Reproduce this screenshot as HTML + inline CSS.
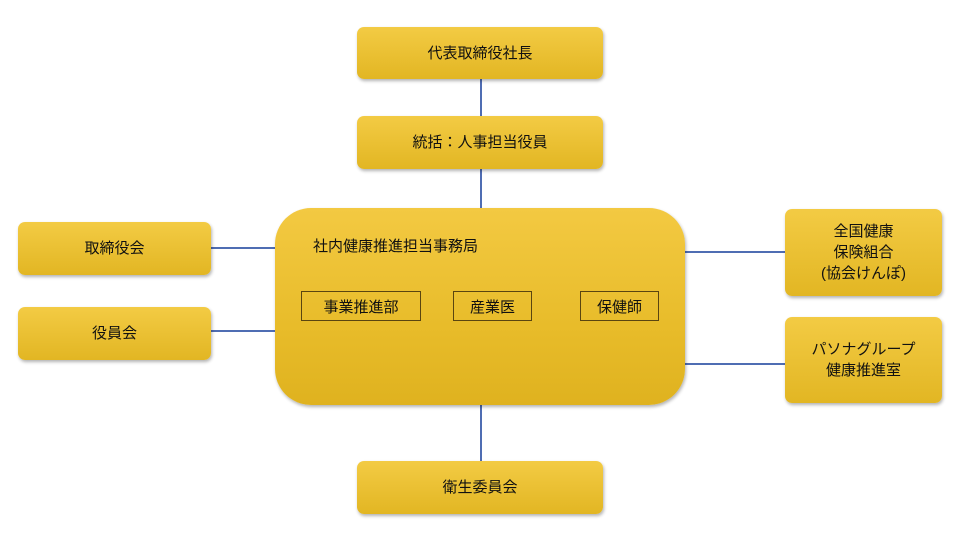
<!DOCTYPE html>
<html><head><meta charset="utf-8"><style>
body{margin:0;width:960px;height:540px;background:#fff;position:relative;overflow:hidden;font-family:"Liberation Sans","Noto Sans CJK JP",sans-serif;color:#111}
.b{position:absolute;background:linear-gradient(#f3cb44,#e2b623);border-radius:7px;box-shadow:1px 2px 3px rgba(0,0,0,.3);display:flex;align-items:center;justify-content:center;text-align:center;font-size:15px;line-height:21px}
.l{position:absolute;background:#4f6db3}
.i{position:absolute;border:1px solid #5a4510;display:flex;align-items:center;justify-content:center;font-size:15px;height:28px;top:291px}
</style></head><body>
<div class="l" style="left:480px;top:79px;width:2px;height:37px"></div>
<div class="l" style="left:480px;top:169px;width:2px;height:40px"></div>
<div class="l" style="left:480px;top:404px;width:2px;height:57px"></div>
<div class="l" style="left:211px;top:247px;width:65px;height:2px"></div>
<div class="l" style="left:211px;top:330px;width:65px;height:2px"></div>
<div class="l" style="left:684px;top:251px;width:101px;height:2px"></div>
<div class="l" style="left:684px;top:363px;width:101px;height:2px"></div>
<div class="b" style="left:357px;top:27px;width:246px;height:52px">代表取締役社長</div>
<div class="b" style="left:357px;top:116px;width:246px;height:53px">統括：人事担当役員</div>
<div class="b" style="left:18px;top:222px;width:193px;height:53px">取締役会</div>
<div class="b" style="left:18px;top:307px;width:193px;height:53px">役員会</div>
<div class="b" style="left:785px;top:209px;width:157px;height:87px">全国健康<br>保険組合<br>(協会けんぽ)</div>
<div class="b" style="left:785px;top:317px;width:157px;height:86px">パソナグループ<br>健康推進室</div>
<div class="b" style="left:357px;top:461px;width:246px;height:53px">衛生委員会</div>
<div class="b" style="left:275px;top:208px;width:410px;height:197px;border-radius:36px;display:block;background:linear-gradient(#f3c942,#e8bc2a 60%,#dfb21f)">
<div style="position:absolute;left:38px;top:28px;font-size:15px">社内健康推進担当事務局</div></div>
<div class="i" style="left:301px;width:118px">事業推進部</div>
<div class="i" style="left:453px;width:77px">産業医</div>
<div class="i" style="left:580px;width:77px">保健師</div>
</body></html>
